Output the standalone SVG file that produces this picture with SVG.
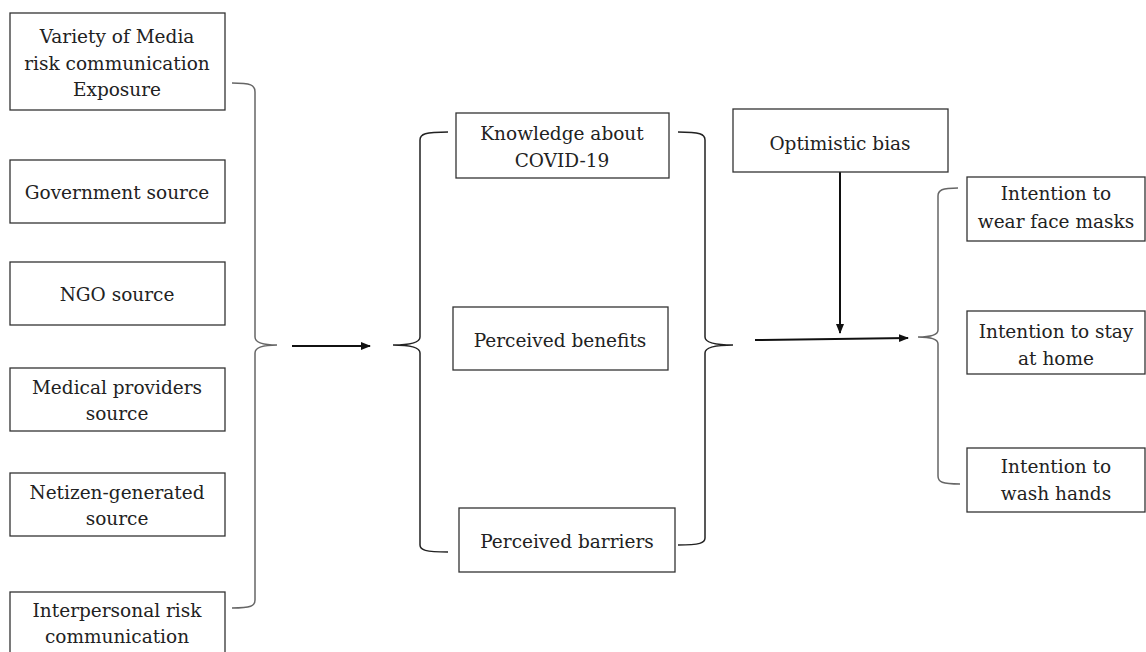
<svg xmlns="http://www.w3.org/2000/svg" width="1146" height="652" viewBox="0 0 1146 652">
<style>
.box{fill:#fff;stroke:#333;stroke-width:1.3}
.t{font-family:"DejaVu Serif","Liberation Serif",serif;font-size:18.5px;fill:#222;text-anchor:middle}
.br{fill:none;stroke:#666;stroke-width:1.5}
.brd{fill:none;stroke:#222;stroke-width:1.5}
.ar{fill:none;stroke:#111;stroke-width:2}
</style>
<defs>
<marker id="ah" viewBox="0 0 10 10" refX="9" refY="5" markerWidth="5" markerHeight="5" orient="auto" markerUnits="strokeWidth">
<path d="M0,1 L10,5 L0,9 z" fill="#111"/>
</marker>
</defs>
<rect width="1146" height="652" fill="#fff"/>
<g id="connectors">
<path class="br" d="M232,83 C251,83 255,85 255,92 L255,337 C255,342 262,345 277,345 C262,345 255,348 255,353 L255,600 C255,606 251,608 232,608"/>
<line class="ar" x1="292" y1="346" x2="370" y2="346" marker-end="url(#ah)"/>
<path class="brd" d="M448,132 C425,132 420,134 420,140 L420,337 C420,342 413,345 393,345 C413,345 420,348 420,353 L420,545 C420,550 425,552 448,552"/>
<path class="brd" d="M678,132 C700,132 705,134 705,140 L705,337 C705,342 712,345 733,345 C712,345 705,348 705,353 L705,538 C705,543 700,545 678,545"/>
<line class="ar" x1="840" y1="172" x2="840" y2="333" marker-end="url(#ah)"/>
<line class="ar" x1="755" y1="340" x2="908" y2="338" marker-end="url(#ah)"/>
<path class="br" d="M958,188 C942,188 938,190 938,196 L938,330 C938,334 932,337 918,337 C932,337 938,340 938,344 L938,476 C938,482 942,484 960,484"/>
</g>
<g id="n-media"><rect class="box" x="10" y="13" width="215" height="97"/><text class="t" x="117" y="43">Variety of Media</text><text class="t" x="117" y="70">risk communication</text><text class="t" x="117" y="96">Exposure</text></g>
<g id="n-gov"><rect class="box" x="10" y="160" width="215" height="63"/><text class="t" x="117" y="199">Government source</text></g>
<g id="n-ngo"><rect class="box" x="10" y="262" width="215" height="63"/><text class="t" x="117" y="301">NGO source</text></g>
<g id="n-medical"><rect class="box" x="10" y="368" width="215" height="63"/><text class="t" x="117" y="394">Medical providers</text><text class="t" x="117" y="420">source</text></g>
<g id="n-netizen"><rect class="box" x="10" y="473" width="215" height="63"/><text class="t" x="117" y="499">Netizen-generated</text><text class="t" x="117" y="525">source</text></g>
<g id="n-interpersonal"><rect class="box" x="10" y="592" width="215" height="66"/><text class="t" x="117" y="617">Interpersonal risk</text><text class="t" x="117" y="643">communication</text></g>
<g id="n-knowledge"><rect class="box" x="456" y="113" width="213" height="65"/><text class="t" x="562" y="140">Knowledge about</text><text class="t" x="562" y="167">COVID-19</text></g>
<g id="n-benefits"><rect class="box" x="453" y="307" width="215" height="63"/><text class="t" x="560" y="347">Perceived benefits</text></g>
<g id="n-barriers"><rect class="box" x="459" y="508" width="216" height="64"/><text class="t" x="567" y="548">Perceived barriers</text></g>
<g id="n-optimistic"><rect class="box" x="733" y="109" width="215" height="63"/><text class="t" x="840" y="150">Optimistic bias</text></g>
<g id="n-masks"><rect class="box" x="967" y="177" width="178" height="64"/><text class="t" x="1056" y="200">Intention to</text><text class="t" x="1056" y="228">wear face masks</text></g>
<g id="n-home"><rect class="box" x="967" y="311" width="178" height="63"/><text class="t" x="1056" y="338">Intention to stay</text><text class="t" x="1056" y="365">at home</text></g>
<g id="n-hands"><rect class="box" x="967" y="448" width="178" height="64"/><text class="t" x="1056" y="473">Intention to</text><text class="t" x="1056" y="500">wash hands</text></g>
</svg>
